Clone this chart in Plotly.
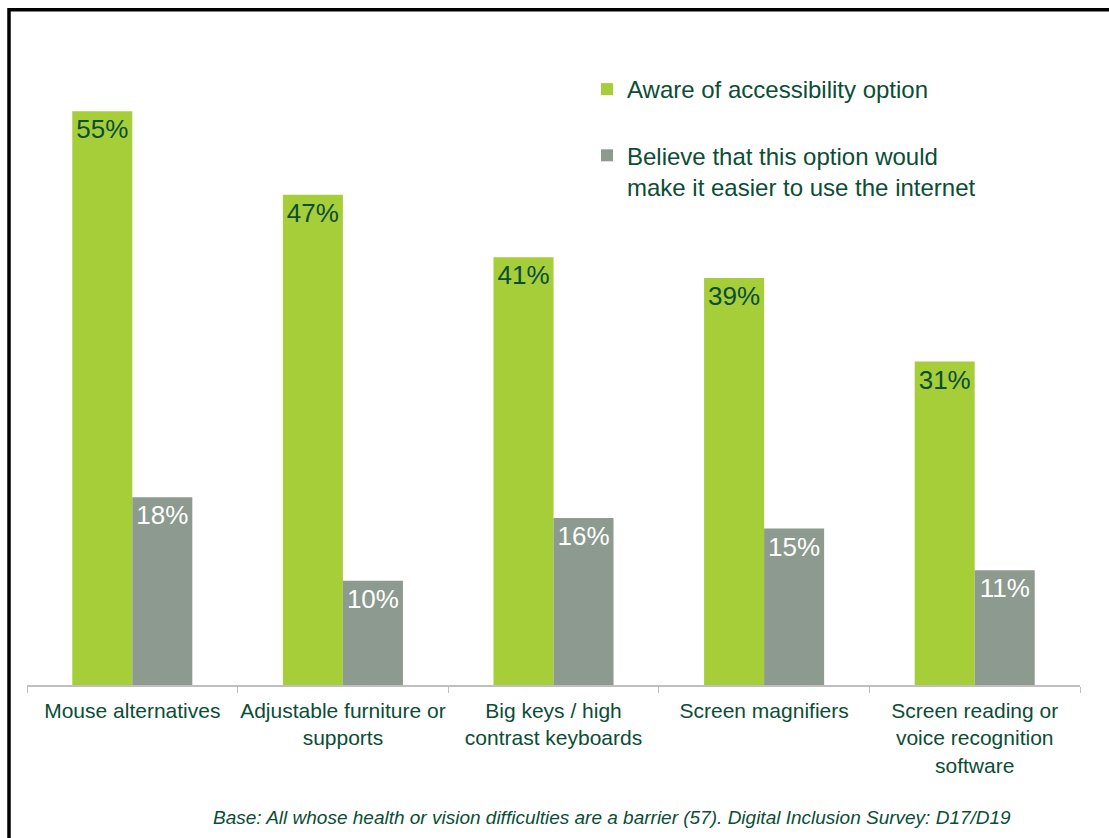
import plotly.graph_objects as go

categories = ["Mouse alternatives", "Adjustable furniture or<br>supports",
              "Big keys / high<br>contrast keyboards", "Screen magnifiers",
              "Screen reading or<br>voice recognition<br>software"]
aware = [55, 47, 41, 39, 31]
believe = [18, 10, 16, 15, 11]
series_names = ["Aware of accessibility option",
                "Believe that this option would<br>make it easier to use the internet"]

GREEN = "#a6ce39"
GRAY = "#8c9a8f"
TEXT = "#0b4d36"
FONT = "Liberation Sans, Arial, sans-serif"

# plot area in pixels
L, R, T, B = 27, 1080, 59, 685
W, H = R - L, B - T
def px(p): return (p - L) / W
def py(p): return (B - p) / H

fig = go.Figure()
fig.add_trace(go.Bar(
    x=categories, y=aware, name=series_names[0], legendgroup="a",
    marker=dict(color=GREEN, line=dict(width=0)),
    text=[f"{v}%" for v in aware], textposition="inside", insidetextanchor="end",
    textangle=0, textfont=dict(color=TEXT, size=26, family=FONT),
    cliponaxis=False,
))
fig.add_trace(go.Bar(
    x=categories, y=believe, name=series_names[1], legendgroup="b",
    marker=dict(color=GRAY, line=dict(width=0)),
    text=[f"{v}%" for v in believe], textposition="inside", insidetextanchor="end",
    textangle=0, textfont=dict(color="white", size=26, family=FONT),
    cliponaxis=False,
))

fig.update_layout(
    width=1109, height=838,
    margin=dict(l=L, r=1109 - R, t=T, b=838 - B, pad=0, autoexpand=False),
    paper_bgcolor="white", plot_bgcolor="white",
    barmode="group", bargap=0.43, bargroupgap=0,
    font=dict(family=FONT, color=TEXT),
    showlegend=True,
    legend=dict(
        x=px(587), y=py(67), xanchor="left", yanchor="top",
        font=dict(size=24, color=TEXT, family=FONT),
        bgcolor="rgba(0,0,0,0)", tracegroupgap=32, traceorder="grouped",
        valign="top", itemclick=False,
    ),
    xaxis=dict(
        showline=True, linecolor="#bfbfbf", linewidth=1.5,
        ticks="outside", tickson="boundaries", ticklen=6, tickcolor="#bfbfbf",
        tickangle=0, automargin=False, ticklabelstandoff=6,
        tickfont=dict(size=21, color=TEXT, family=FONT),
        showgrid=False, fixedrange=True,
    ),
    yaxis=dict(range=[0, 60], visible=False, showgrid=False, fixedrange=True,
               automargin=False),
    shapes=[dict(
        type="rect", xref="paper", yref="paper",
        x0=px(9), x1=px(1125), y0=py(850), y1=py(9.7),
        line=dict(color="black", width=3.5), fillcolor="rgba(0,0,0,0)", layer="above",
    )],
    annotations=[dict(
        text="<i>Base: All whose health or vision difficulties are a barrier (57). Digital Inclusion Survey: D17/D19</i>",
        xref="paper", yref="paper", x=px(611.5), y=py(817),
        xanchor="center", yanchor="middle", showarrow=False,
        font=dict(size=19, color=TEXT, family=FONT),
    )],
)

fig.write_html("out.html")
